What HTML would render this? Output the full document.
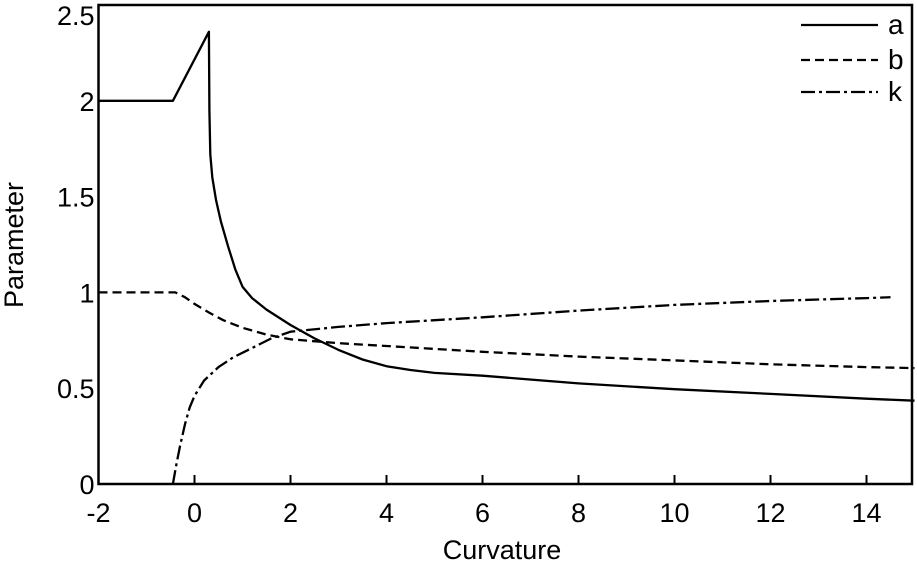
<!DOCTYPE html>
<html><head><meta charset="utf-8"><style>
body{margin:0;background:#fff;}
svg{display:block;font-family:"Liberation Sans","DejaVu Sans",sans-serif;}
</style></head><body>
<svg id="chart" width="917" height="565" viewBox="0 0 917 565" xmlns="http://www.w3.org/2000/svg">
<g id="axes"></g><g id="series"></g><g id="legend"></g>
</svg>
<script>
const xTicks=[-2,0,2,4,6,8,10,12,14];
const yTicks=[0,0.5,1,1.5,2,2.5];
const yTickLabels=["0","0.5","1","1.5","2","2.5"];
const aX=[-2,-0.45,0.3,0.31,0.33,0.37,0.45,0.55,0.7,0.85,1,1.2,1.5,2,2.5,3,3.5,4,4.5,5,6,8,10,12,14,15];
const aY=[2,2,2.36,1.95,1.72,1.6,1.48,1.37,1.24,1.12,1.03,0.97,0.91,0.83,0.76,0.7,0.65,0.615,0.595,0.58,0.565,0.525,0.495,0.47,0.445,0.435];
const bX=[-2,-0.4,-0.2,0,0.3,0.6,1,1.5,2,3,4,6,8,10,12,14,15];
const bY=[1,1,0.975,0.94,0.895,0.855,0.815,0.78,0.755,0.735,0.72,0.69,0.665,0.645,0.625,0.61,0.605];
const kX=[-0.45,-0.38,-0.3,-0.2,-0.1,0,0.2,0.5,0.8,1.2,1.6,2,3,4,6,8,10,12,14,14.5];
const kY=[0,0.1,0.2,0.31,0.4,0.46,0.54,0.61,0.66,0.71,0.76,0.795,0.82,0.84,0.87,0.905,0.935,0.955,0.97,0.975];
const NS="http://www.w3.org/2000/svg";
const X0=98.5,XU=48.0,Y0=484,YU=191.6,XR=912;
const sx=v=>X0+(v+2)*XU, sy=v=>Y0-v*YU;
function mk(tag,attrs,parent){const e=document.createElementNS(NS,tag);for(const k in attrs)e.setAttribute(k,attrs[k]);parent.appendChild(e);return e;}
const axes=document.getElementById('axes');
const frame=mk('rect',{x:X0,y:sy(2.5),width:XR-X0,height:Y0-sy(2.5),fill:'none',stroke:'#000','stroke-width':2.5},axes);


xTicks.forEach(t=>{
  const l=mk('line',{x1:sx(t),x2:sx(t),y1:Y0,y2:Y0-9,stroke:'#000','stroke-width':2},axes);
  
  
  const tx=mk('text',{x:sx(t),y:Y0+38,'text-anchor':'middle','font-size':27},axes);
  tx.textContent=String(t);
  
  
});
yTicks.forEach((t,i)=>{
  const tx=mk('text',{x:X0-4,y:Math.max(sy(t)+10,25),'text-anchor':'end','font-size':27},axes);
  tx.textContent=yTickLabels[i];
  
  
});
const xt=mk('text',{x:502,y:559,'text-anchor':'middle','font-size':27},axes);
xt.textContent='Curvature';


const yt=mk('text',{x:0,y:0,'text-anchor':'middle','font-size':27,transform:'translate(23,245) rotate(-90)'},axes);
yt.textContent='Parameter';


const series=document.getElementById('series');
function draw(xs,ys,dash,name){
  const d=xs.map((x,i)=>(i?'L':'M')+sx(x).toFixed(1)+','+sy(ys[i]).toFixed(1)).join(' ');
  const p=mk('path',{d:d,fill:'none',stroke:'#000','stroke-width':2.3,'stroke-dasharray':dash,'stroke-linejoin':'round'},series);
  
  
}
draw(aX,aY,'none','series-a-line');
draw(bX,bY,'9,5','series-b-line');
draw(kX,kY,'14,4,3,4','series-k-line');
const lg=document.getElementById('legend');
[['a','none',25],['b','9,5',60],['k','14,4,3,4',92]].forEach(r=>{
  const l=mk('line',{x1:801,x2:878,y1:r[2],y2:r[2],stroke:'#000','stroke-width':2.3,'stroke-dasharray':r[1]},lg);
  
  
  const t=mk('text',{x:888,y:r[2]+9,'font-size':28},lg);
  t.textContent=r[0];
  
  
});
</script>
</body></html>
